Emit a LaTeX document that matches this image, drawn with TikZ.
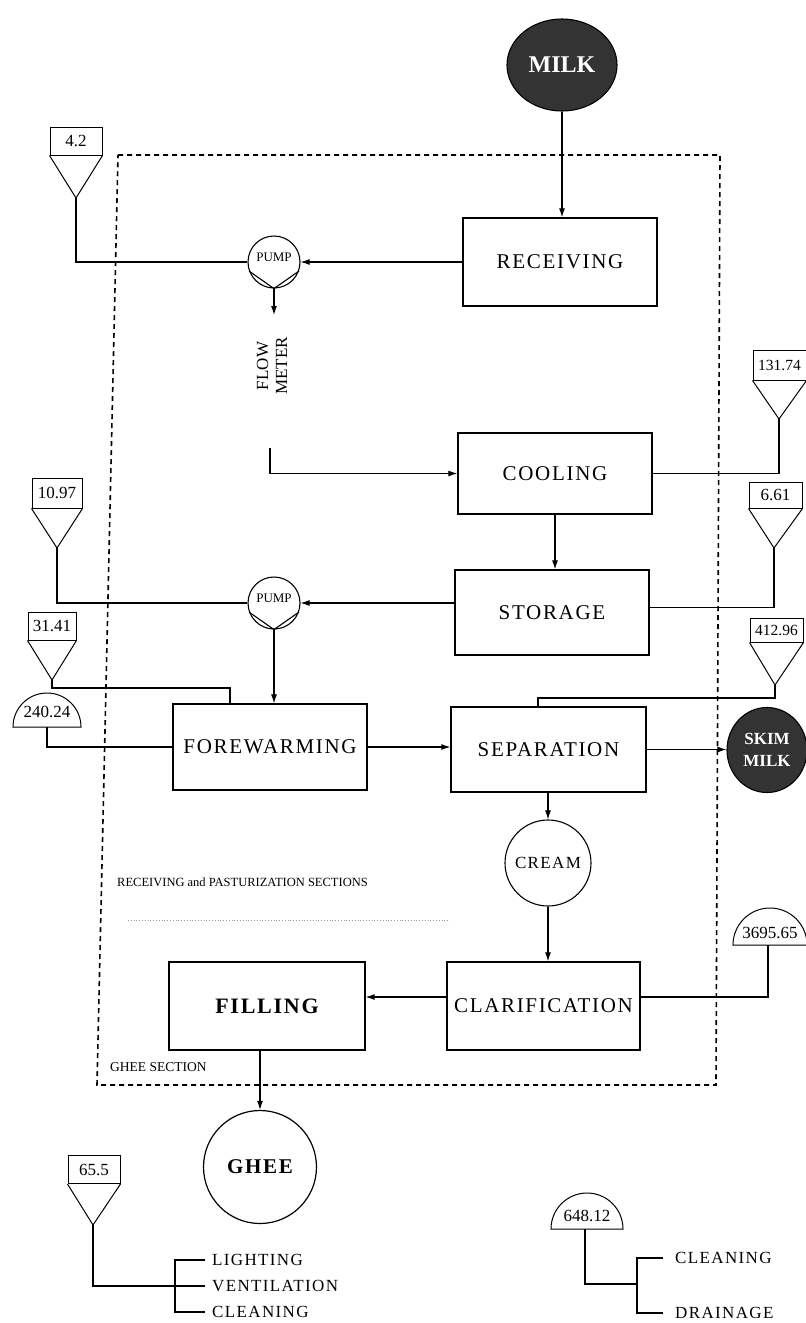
\documentclass[tikz,border=0pt]{standalone}
\usepackage{fontspec}
\setmainfont{Liberation Serif}
\newfontfamily\spaced[LetterSpace=8]{Liberation Serif}
\usetikzlibrary{arrows.meta,shapes.geometric}
\begin{document}
\begin{tikzpicture}[x=1pt,y=-1pt,
 every node/.style={inner sep=0pt},
 box/.style={draw,line width=1.3pt,minimum width=194pt,minimum height=86pt,font=\spaced\fontsize{21}{21}\selectfont},
 tagbox/.style={draw,line width=1pt,minimum width=52pt,minimum height=28pt,font=\fontsize{17}{17}\selectfont},
 tagnum/.style={font=\fontsize{17}{17}\selectfont},
 pumpc/.style={draw,circle,line width=1.1pt,minimum size=52pt,font=\fontsize{13}{13}\selectfont},
 prod/.style={draw,ellipse,line width=1.1pt,fill=black!80,text=white},
 flow/.style={line width=1.1pt},
 tri/.style={line width=1pt},
 arr/.style={flow,-{Latex[length=9pt,width=6pt]}},
 lab/.style={font=\spaced\fontsize{17}{17}\selectfont,anchor=west},
 sect/.style={font=\fontsize{12.5}{12.5}\selectfont,anchor=west},
]
\useasboundingbox (0,0) rectangle (806,1323);

% section outline
\draw[line width=1.6pt,dash pattern=on 5pt off 4pt] (118,155) -- (720,155) -- (716,1085) -- (97,1085) -- cycle;
\draw[dotted,black!40,line width=0.8pt] (128,920) -- (450,920);

% process boxes
\node[box,minimum height=88pt] (rec) at (560,262) {RECEIVING};
\node[box,minimum height=81pt] (cool) at (555,473.5) {COOLING};
\node[box,minimum height=85pt] (stor) at (552,612.5) {STORAGE};
\node[box] (fore) at (270,747) {FOREWARMING};
\node[box,minimum width=195pt,minimum height=85pt] (sep) at (548.5,749.5) {SEPARATION};
\node[box,minimum width=193pt,minimum height=88pt] (clar) at (543.5,1006) {CLARIFICATION};
\node[box,minimum width=196pt,minimum height=88pt,font=\spaced\bfseries\fontsize{22}{22}\selectfont] (filling) at (267,1006) {FILLING};

% products
\node[prod,minimum width=110pt,minimum height=92pt,font=\bfseries\fontsize{24}{24}\selectfont] (milk) at (562,65) {MILK};
\node[prod,minimum width=80pt,minimum height=85pt,align=center,font=\bfseries\fontsize{17}{22}\selectfont] (skim) at (767,750) {SKIM\\MILK};
\node[draw,circle,line width=1.1pt,minimum size=86pt,font=\spaced\fontsize{17}{17}\selectfont] (cream) at (548,863) {CREAM};
\node[draw,circle,line width=1.2pt,minimum size=113pt,font=\spaced\bfseries\fontsize{21}{21}\selectfont] (ghee) at (260,1167) {GHEE};

% pumps
\node[pumpc] (pump1) at (274,262) {\raisebox{9pt}{PUMP}};
\draw[flow] (pump1.200) -- (pump1.south) -- (pump1.-20);
\node[pumpc] (pump2) at (274,603) {\raisebox{9pt}{PUMP}};
\draw[flow] (pump2.200) -- (pump2.south) -- (pump2.-20);

% flow meter
\node[font=\fontsize{17}{19}\selectfont,rotate=90,align=center] (fm) at (272,366) {FLOW\\METER};
\coordinate (fmtop) at (274,315);
\coordinate (fmbot) at (270,448);

% main flow
\draw[arr] (milk.south) -- (milk.south |- rec.north);
\draw[arr] (rec.west) -- (pump1.east);
\draw[arr] (pump1.south) -- (fmtop);
\draw[arr] (fmbot) |- (cool.west);
\draw[arr] (cool.south) -- (cool.south |- stor.north);
\draw[arr] (stor.west |- pump2.east) -- (pump2.east);
\draw[arr] (pump2.south) -- (pump2.south |- fore.north);
\draw[arr] (fore.east) -- (fore.east -| sep.west);
\draw[arr] (sep.east) -- (sep.east -| skim.west);
\draw[arr] (cream.north |- sep.south) -- (cream.north);
\draw[arr] (cream.south) -- (cream.south |- clar.north);
\draw[arr] ([yshift=9pt]clar.west) -- ([yshift=9pt]clar.west -| filling.east);
\draw[arr] (ghee.north |- filling.south) -- (ghee.north);

% energy tags (funnel type)
\node[tagbox] (t42) at (76,141) {4.2};
\coordinate (a42) at (76,198);
\draw[tri] (t42.south west) -- (a42) -- (t42.south east);
\draw[flow] (a42) |- (pump1.west);

\node[tagbox,minimum width=50pt,minimum height=30pt] (t10) at (57,493) {10.97};
\coordinate (a10) at (57,548);
\draw[tri] (t10.south west) -- (a10) -- (t10.south east);
\draw[flow] (a10) |- (pump2.west);

\node[tagbox,minimum width=48pt] (t31) at (52,626) {31.41};
\coordinate (a31) at (52,680);
\draw[tri] (t31.south west) -- (a31) -- (t31.south east);
\draw[flow] (a31) -- ++(0,8) -| ([xshift=-40pt]fore.north);

\node[tagbox,minimum width=53pt,minimum height=30pt,font=\fontsize{15.5}{15.5}\selectfont] (t131) at (779.5,365) {131.74};
\coordinate (a131) at (779,419);
\draw[tri] (t131.south west) -- (a131) -- (t131.south east);
\draw[flow] (cool.east) -| (a131);

\node[tagbox,minimum width=53pt,minimum height=26pt] (t661) at (775.5,495) {6.61};
\coordinate (a661) at (774,548);
\draw[tri] (t661.south west) -- (a661) -- (t661.south east);
\draw[flow] (a661) |- ([yshift=5pt]stor.east);

\node[tagbox,minimum width=53pt,minimum height=24pt,font=\fontsize{15.5}{15.5}\selectfont] (t412) at (776.5,630) {412.96};
\coordinate (a412) at (775,685);
\draw[tri] (t412.south west) -- (a412) -- (t412.south east);
\draw[flow] (a412) -- ++(0,13) -| ([xshift=-10.5pt]sep.north);

\node[tagbox] (t655) at (94,1169.5) {65.5};
\coordinate (a655) at (93,1225);
\draw[tri] (t655.south west) -- (a655) -- (t655.south east);

% energy tags (dome type)
\draw[tri] (13,727) arc (180:360:34) -- cycle;
\node[tagnum] (s240) at (47,712) {240.24};
\coordinate (s240b) at (47,727);
\draw[flow] (s240b) |- (fore.west);

\draw[tri] (733,945) arc (180:360:37) -- cycle;
\node[tagnum] (s3695) at (770,933) {3695.65};
\coordinate (s3695b) at (768,945);
\draw[flow] (s3695b) |- ([yshift=9pt]clar.east);

\draw[tri] (551,1229) arc (180:360:36) -- cycle;
\node[tagnum] (s648) at (587,1216) {648.12};
\coordinate (s648b) at (585,1229);

% section labels
\node[sect] (secA) at (117,882) {RECEIVING and PASTURIZATION SECTIONS};
\node[sect,font=\fontsize{13.5}{13.5}\selectfont] (secB) at (110,1067) {GHEE SECTION};

% bracket 1
\node[lab] (light) at (212,1260) {LIGHTING};
\node[lab] (vent) at (212,1286) {VENTILATION};
\node[lab] (clean1) at (212,1312) {CLEANING};
\coordinate (b1) at (175,1286);
\draw[flow] (a655) |- (b1);
\draw[flow] ([xshift=-7pt]light.west) -| (b1) |- ([xshift=-7pt]clean1.west);
\draw[flow] (b1) -- ([xshift=-7pt]vent.west);

% bracket 2
\node[lab] (clean2) at (675,1258) {CLEANING};
\node[lab] (drain) at (675,1313) {DRAINAGE};
\coordinate (b2) at (637,1284);
\draw[flow] (s648b) |- (b2);
\draw[flow] ([xshift=-12pt]clean2.west) -| (b2) |- ([xshift=-12pt]drain.west);
\end{tikzpicture}
\end{document}
